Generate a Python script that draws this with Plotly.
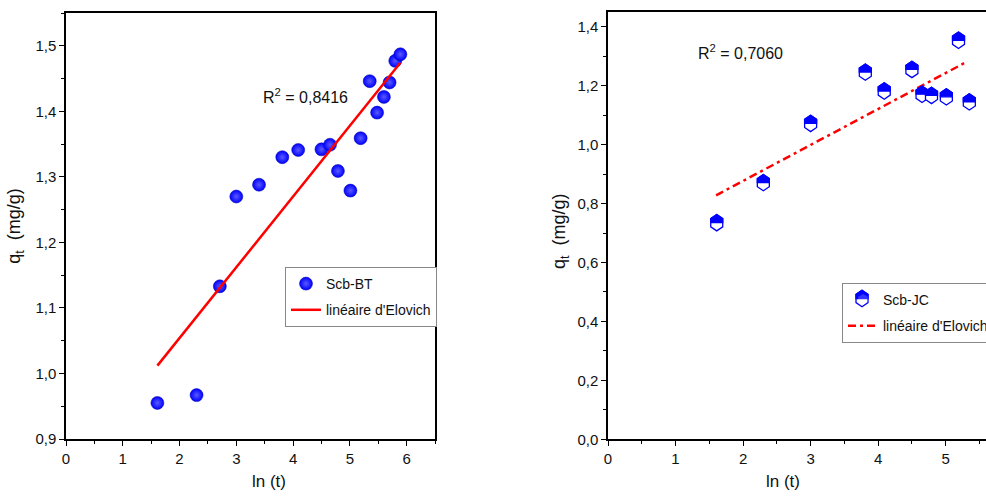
import plotly.graph_objects as go

# ---- data ----
lnt_bt = [1.61, 2.30, 2.71, 3.00, 3.40, 3.81, 4.09, 4.50, 4.65, 4.79, 5.01, 5.19, 5.35, 5.48, 5.60, 5.70, 5.80, 5.89]
qt_bt = [0.955, 0.967, 1.133, 1.270, 1.288, 1.330, 1.341, 1.342, 1.349, 1.309, 1.279, 1.359, 1.446, 1.398, 1.422, 1.444, 1.477, 1.487]
fit_bt_x = [1.61, 5.89]
fit_bt_y = [1.012, 1.474]

lnt_jc = [1.61, 2.30, 3.00, 3.81, 4.09, 4.50, 4.65, 4.79, 5.01, 5.19, 5.35]
qt_jc = [0.735, 0.871, 1.072, 1.246, 1.182, 1.255, 1.171, 1.167, 1.162, 1.354, 1.145]
fit_jc_x = [1.60, 5.32]
fit_jc_y = [0.828, 1.282]

r2_bt = "R<sup>2</sup> = 0,8416"
r2_jc = "R<sup>2</sup> = 0,7060"
name_bt = "Scb-BT"
name_jc = "Scb-JC"
name_fit = "linéaire d'Elovich"
ytitle = "q<sub>t</sub>\u00a0 (mg/g)"
xtitle = "ln (t)"

W, H = 986, 504
FONT = "Liberation Sans, Arial, sans-serif"
BLUE = "#0000ff"
RED = "#ff0000"
TXT = "#111111"

fig = go.Figure()

fig.add_trace(go.Scatter(
    x=lnt_bt, y=qt_bt, mode="markers", name=name_bt, xaxis="x", yaxis="y",
    legend="legend", legendgroup="a",
    marker=dict(symbol="circle", size=13, color=BLUE,
                gradient=dict(type="radial", color="#5a5aff"),
                line=dict(width=0.5, color="#0000aa"))))
fig.add_trace(go.Scatter(
    x=fit_bt_x, y=fit_bt_y, mode="lines", name=name_fit, xaxis="x", yaxis="y",
    legend="legend", legendgroup="b", line=dict(color=RED, width=2.5)))

# Scb-JC points (covered by the half-filled hexagon glyphs below)
fig.add_trace(go.Scatter(
    x=lnt_jc, y=qt_jc, mode="markers", name=name_jc, xaxis="x2", yaxis="y2",
    showlegend=False,
    marker=dict(symbol="hexagon", size=11, color="white",
                line=dict(width=1, color=BLUE))))
# legend entry for Scb-JC (its glyph is drawn as a shape)
fig.add_trace(go.Scatter(
    x=[None], y=[None], mode="markers", name=name_jc, xaxis="x2", yaxis="y2",
    legend="legend2", legendgroup="c",
    marker=dict(symbol="hexagon", size=11, color="white", opacity=0)))
fig.add_trace(go.Scatter(
    x=fit_jc_x, y=fit_jc_y, mode="lines", name=name_fit, xaxis="x2", yaxis="y2",
    legend="legend2", legendgroup="d",
    line=dict(color=RED, width=2.5, dash="8px,4px,3px,4px")))

# half-filled hexagon glyphs (pixel-sized shapes anchored on the data)
HW, HH = 6.0, 8.2   # half width / half height in px
full_path = (f"M0,{HH} L{HW},{HH/2} L{HW},{-HH/2} L0,{-HH} "
             f"L{-HW},{-HH/2} L{-HW},{HH/2} Z")
half_path = f"M{-HW},0 L{-HW},{HH/2} L0,{HH} L{HW},{HH/2} L{HW},0 Z"


def hex_glyph(xref, yref, xa, ya):
    return [
        dict(type="path", xref=xref, yref=yref, xsizemode="pixel", ysizemode="pixel",
             xanchor=xa, yanchor=ya, path=full_path,
             fillcolor="white", line=dict(width=1.3, color=BLUE), layer="above"),
        dict(type="path", xref=xref, yref=yref, xsizemode="pixel", ysizemode="pixel",
             xanchor=xa, yanchor=ya, path=half_path,
             fillcolor=BLUE, line=dict(width=1.3, color=BLUE), layer="above"),
    ]


shapes = []
for xv, yv in zip(lnt_jc, qt_jc):
    shapes += hex_glyph("x2", "y2", xv, yv)
# legend icon (legend2 is transparent so this shows through)
shapes += hex_glyph("paper", "paper", 862 / W, (H - 298.5) / H)

axis_common = dict(showline=True, linecolor="black", linewidth=1.5, mirror=True,
                   ticks="outside", ticklen=5, tickwidth=1.2, tickcolor="black",
                   showgrid=False, zeroline=False,
                   tickfont=dict(family=FONT, size=15, color=TXT))
minor_common = dict(ticks="outside", ticklen=3, tickcolor="black", tickwidth=1)
legend_common = dict(xanchor="left", yanchor="top", bordercolor="#888",
                     borderwidth=1, tracegroupgap=5, traceorder="grouped",
                     font=dict(family=FONT, size=14, color=TXT))

fig.update_layout(
    width=W, height=H,
    margin=dict(l=0, r=0, t=0, b=0, autoexpand=False),
    paper_bgcolor="white", plot_bgcolor="white",
    separators=", ",
    showlegend=True,
    xaxis=dict(domain=[66 / W, 435 / W], range=[0, 6.5], dtick=1, tick0=0, anchor="y",
               minor=dict(dtick=0.5, **minor_common), **axis_common),
    yaxis=dict(domain=[65 / H, 491 / H], range=[0.9, 1.55], dtick=0.1, tick0=0.9,
               tickformat=".1f", anchor="x",
               title=dict(text=ytitle, standoff=10, font=dict(family=FONT, size=18, color=TXT)),
               minor=dict(dtick=0.05, **minor_common), **axis_common),
    xaxis2=dict(domain=[608 / W, 1.0], range=[0, 5.597], dtick=1, tick0=0, anchor="y2",
                minor=dict(dtick=0.5, **minor_common), **axis_common),
    yaxis2=dict(domain=[64.7 / H, 492 / H], range=[0, 1.45], dtick=0.2, tick0=0,
                tickformat=".1f", anchor="x2",
                minor=dict(dtick=0.1, **minor_common), **axis_common),
    legend=dict(x=285 / W, y=(H - 267) / H, bgcolor="white", **legend_common),
    legend2=dict(x=842 / W, y=(H - 283) / H, bgcolor="rgba(255,255,255,0)", **legend_common),
    shapes=shapes,
    annotations=[
        dict(text=r2_bt, x=4.22, y=1.424, xref="x", yref="y", showarrow=False,
             font=dict(family=FONT, size=16, color=TXT)),
        dict(text=r2_jc, x=1.96, y=1.314, xref="x2", yref="y2", showarrow=False,
             font=dict(family=FONT, size=16, color=TXT)),
        dict(text=ytitle, x=560 / W, y=(H - 231) / H, xref="paper", yref="paper",
             textangle=-90, showarrow=False, font=dict(family=FONT, size=18, color=TXT)),
        dict(text=xtitle, x=250 / W, y=(H - 493) / H, xref="paper", yref="paper",
             showarrow=False, font=dict(family=FONT, size=17, color=TXT)),
        dict(text=xtitle, x=802 / W, y=(H - 493) / H, xref="paper", yref="paper",
             showarrow=False, font=dict(family=FONT, size=17, color=TXT)),
    ],
)

fig.write_html("out.html")
